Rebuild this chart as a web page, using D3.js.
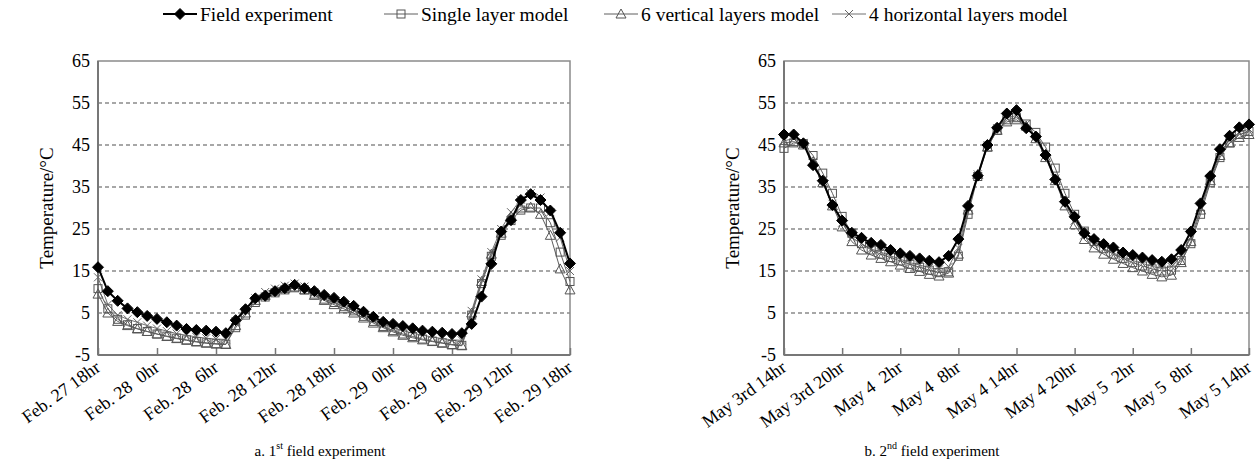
<!DOCTYPE html>
<html>
<head>
<meta charset="utf-8">
<script src="https://cdn.jsdelivr.net/npm/d3@7"></script>
<style>
  body { margin: 0; background: #fff; }
  svg text { font-family: "Liberation Serif", "Times New Roman", serif; fill: #000; }
</style>
</head>
<body>
<svg id="chart" width="1257" height="469" font-family="Liberation Serif"></svg>
<script>
const seriesNames = ["Field experiment", "Single layer model", "6 vertical layers model", "4 horizontal layers model"];
const yTicks = [-5, 5, 15, 25, 35, 45, 55, 65];

const labelsA = ["Feb. 27 18hr", "Feb. 28  0hr", "Feb. 28  6hr", "Feb. 28 12hr", "Feb. 28 18hr",
                 "Feb. 29  0hr", "Feb. 29  6hr", "Feb. 29 12hr", "Feb. 29 18hr"];
const labelsB = ["May 3rd 14hr", "May 3rd 20hr", "May 4  2hr", "May 4  8hr", "May 4 14hr",
                 "May 4 20hr", "May 5  2hr", "May 5  8hr", "May 5 14hr"];

// hourly readings, 49 per series
const fieldA = [15.9,10.2,7.9,6.1,5.2,4.3,3.6,2.8,2.0,1.2,0.95,0.8,0.55,0.2,3.3,5.9,8.5,9.1,10.2,10.9,11.7,10.9,10.2,9.3,8.6,7.7,6.7,5.3,4.1,2.9,2.4,1.9,1.35,0.8,0.55,0.3,0.0,0.2,2.4,8.9,16.7,24.4,27.1,31.9,33.3,31.9,29.4,24.1,16.8];
const singleA = [10.8,6.0,3.5,2.2,1.3,0.6,0.0,-0.5,-1.0,-1.4,-1.8,-2.1,-2.3,-2.4,1.5,4.5,7.5,8.8,9.8,10.5,11.0,10.5,9.5,8.3,7.5,6.5,5.5,4.2,3.0,1.8,0.8,0.0,-0.6,-1.2,-1.7,-2.1,-2.5,-2.7,4.5,12.0,18.5,23.5,27.0,29.5,30.0,30.0,26.5,19.5,12.5];
const verticalA = [9.5,5.0,3.0,2.0,1.2,0.6,0.0,-0.6,-1.1,-1.5,-1.9,-2.2,-2.4,-2.5,2.0,5.0,8.0,9.2,10.2,10.8,11.2,10.5,9.2,8.0,7.0,6.0,5.0,3.8,2.6,1.5,0.5,-0.3,-0.9,-1.4,-1.8,-2.2,-2.6,-2.8,5.0,12.5,19.0,24.0,28.0,30.0,30.2,28.5,23.5,15.5,10.5];
const horizontalA = [13.5,7.0,4.5,3.5,2.8,2.0,1.3,0.7,0.1,-0.3,-0.7,-1.0,-1.2,-1.3,3.0,5.5,8.5,10.0,10.8,11.5,12.0,11.3,10.0,8.8,8.0,7.0,6.0,4.8,3.6,2.4,1.5,0.8,0.2,-0.3,-0.7,-1.1,-1.4,-1.5,5.5,13.0,19.5,25.0,29.0,32.0,33.5,32.5,29.0,23.0,15.0];

const fieldB = [47.5,47.5,45.4,40.2,36.5,30.7,27.0,24.1,22.9,21.7,21.2,20.0,19.2,18.6,18.0,17.45,17.1,18.6,22.6,30.5,37.7,45.0,49.1,52.5,53.3,49.0,47.0,42.6,36.8,31.5,27.9,24.0,22.6,21.4,20.6,19.4,18.8,18.2,17.6,17.2,17.8,20.0,24.4,31.1,37.6,44.0,47.2,49.2,49.9];
const singleB = [44.2,45.5,45.3,42.5,38.3,33.5,28.0,24.0,21.5,20.0,19.0,18.2,17.4,16.6,15.9,15.2,14.6,14.8,18.5,28.5,37.5,44.5,48.5,51.0,51.5,50.0,48.0,44.5,39.5,33.5,28.5,24.5,22.0,20.3,19.0,18.0,17.0,16.2,15.5,15.0,15.2,17.5,21.5,28.5,36.0,42.0,45.5,47.5,48.2];
const verticalB = [45.5,45.8,45.0,41.0,36.0,30.5,25.5,22.0,20.0,18.8,18.0,17.2,16.4,15.6,14.9,14.2,13.8,14.5,19.0,29.5,38.0,44.5,48.5,50.5,51.0,49.5,46.5,42.0,36.5,30.5,26.0,22.5,20.5,19.0,17.8,16.8,15.8,15.0,14.2,13.6,14.0,17.0,22.0,29.5,36.5,42.5,45.5,46.8,47.5];
const horizontalB = [46.0,46.5,45.5,41.0,36.5,31.0,26.5,23.0,21.5,20.2,19.5,18.6,17.8,17.0,16.4,15.8,15.4,16.0,20.5,30.0,38.0,45.0,49.0,51.5,52.0,50.0,47.0,42.5,37.0,31.0,27.0,23.5,21.5,20.3,19.3,18.3,17.5,16.8,16.1,15.6,16.0,18.5,23.0,30.0,37.0,43.0,46.2,48.0,48.8];

const svg = d3.select("#chart");
const serif = "Liberation Serif";

// marker drawing per series type
function drawMarker(g, type) {
    if (type === "diamond") {
        g.append("path").attr("d", "M0,-5.5L5.5,0L0,5.5L-5.5,0Z").attr("fill", "#000").attr("stroke", "#000");
    } else if (type === "square") {
        g.append("rect").attr("x", -4).attr("y", -4).attr("width", 8).attr("height", 8)
            .attr("fill", "none").attr("stroke", "#555").attr("stroke-width", 1);
    } else if (type === "triangle") {
        g.append("path").attr("d", "M0,-5L5,4L-5,4Z")
            .attr("fill", "none").attr("stroke", "#555").attr("stroke-width", 1);
    } else if (type === "cross") {
        g.append("path").attr("d", "M-4,-4L4,4M-4,4L4,-4")
            .attr("fill", "none").attr("stroke", "#666").attr("stroke-width", 1);
    }
}

const styles = [
    { marker: "diamond", color: "#000", width: 2 },
    { marker: "square", color: "#5e5e5e", width: 1 },
    { marker: "triangle", color: "#5e5e5e", width: 1 },
    { marker: "cross", color: "#707070", width: 1 }
];

function drawPanel(opts) {
    const { left, right, top, bottom, series, labels, caption, sup, capX } = opts;

    const x = d3.scaleLinear().domain([0, 48]).range([left, right]);
    const y = d3.scaleLinear().domain([-5, 65]).range([bottom, top]);
    const g = svg.append("g");

    // dashed grid lines
    g.append("g").selectAll("line")
        .data(yTicks.filter(t => t > -5 && t < 65))
        .enter().append("line")
        .attr("x1", left).attr("x2", right)
        .attr("y1", d => y(d)).attr("y2", d => y(d))
        .attr("stroke", "#8a8a8a").attr("stroke-width", 1.3)
        .attr("stroke-dasharray", "4,3");

    // frame
    g.append("rect")
        .attr("x", left).attr("y", top)
        .attr("width", right - left).attr("height", bottom - top)
        .attr("fill", "none").attr("stroke", "#8a8a8a").attr("stroke-width", 1.5);
    g.append("line").attr("x1", left).attr("x2", left).attr("y1", top).attr("y2", bottom)
        .attr("stroke", "#777").attr("stroke-width", 2);
    g.append("line").attr("x1", left).attr("x2", right).attr("y1", bottom).attr("y2", bottom)
        .attr("stroke", "#777").attr("stroke-width", 2);

    // y axis labels
    const yAxis = d3.axisLeft(y).tickValues(yTicks).tickSize(0).tickPadding(8)
        .tickFormat(d => String(d));
    const ya = g.append("g").attr("transform", `translate(${left},0)`).call(yAxis)
        .attr("font-family", serif).attr("font-size", 18);
    ya.select(".domain").remove();

    // x axis ticks (inward) and rotated labels
    const xTicks = d3.range(0, 49, 6);
    const xAxis = d3.axisBottom(x).tickValues(xTicks).tickSizeInner(-7).tickSizeOuter(0)
        .tickFormat((d, i) => labels[i]);
    const xa = g.append("g").attr("transform", `translate(0,${bottom})`).call(xAxis)
        .attr("font-family", serif).attr("font-size", 18);
    xa.select(".domain").remove();
    xa.selectAll("line").attr("stroke", "#777").attr("stroke-width", 1.5);
    xa.selectAll("text")
        .style("white-space", "pre")
        .attr("text-anchor", "end")
        .attr("x", 0).attr("y", 0).attr("dy", 0)
        .attr("transform", "translate(3,15) rotate(-36)");

    // y title
    g.append("text")
        .attr("transform", `translate(${left - 52},${(top + bottom) / 2}) rotate(-90)`)
        .attr("text-anchor", "middle")
        .attr("dy", "0.35em")
        .attr("font-size", 19)
        .text("Temperature/°C");

    // series: models first, field on top
    const line = d3.line().x((d, i) => x(i)).y(d => y(d));
    const order = [3, 2, 1, 0];
    order.forEach(si => {
        const st = styles[si];
        const data = series[si];
        g.append("path").datum(data)
            .attr("d", line)
            .attr("fill", "none")
            .attr("stroke", st.color)
            .attr("stroke-width", st.width);
        g.append("g").selectAll("g")
            .data(data)
            .enter().append("g")
            .attr("transform", (d, i) => `translate(${x(i)},${y(d)})`)
            .each(function() { drawMarker(d3.select(this), st.marker); });
    });

    // caption
    const cap = g.append("text")
        .attr("x", capX)
        .attr("y", 456)
        .attr("text-anchor", "middle")
        .attr("font-size", 15);
    cap.append("tspan").text(caption[0]);
    cap.append("tspan").attr("font-size", 10).attr("dy", -7).text(sup);
    cap.append("tspan").attr("dy", 7).text(caption[1]);
}

drawPanel({
    left: 98, right: 570, top: 61, bottom: 355,
    series: [fieldA, singleA, verticalA, horizontalA],
    labels: labelsA,
    caption: ["a. 1", " field experiment"], sup: "st", capX: 320
});
drawPanel({
    left: 784, right: 1249, top: 61, bottom: 355,
    series: [fieldB, singleB, verticalB, horizontalB],
    labels: labelsB,
    caption: ["b. 2", " field experiment"], sup: "nd", capX: 932
});

// legend
const legendX = [163, 384, 604, 832];
const legend = svg.append("g");
seriesNames.forEach((name, i) => {
    const st = styles[i];
    const lg = legend.append("g").attr("transform", `translate(${legendX[i]},14)`);
    lg.append("line").attr("x1", 0).attr("x2", 34).attr("y1", 0).attr("y2", 0)
        .attr("stroke", st.color).attr("stroke-width", st.width);
    const m = lg.append("g").attr("transform", "translate(17,0)");
    drawMarker(m, st.marker);
    lg.append("text").attr("x", 37).attr("y", 0).attr("dy", "0.35em")
        .attr("font-size", 19.5).text(name);
});
</script>
</body>
</html>
